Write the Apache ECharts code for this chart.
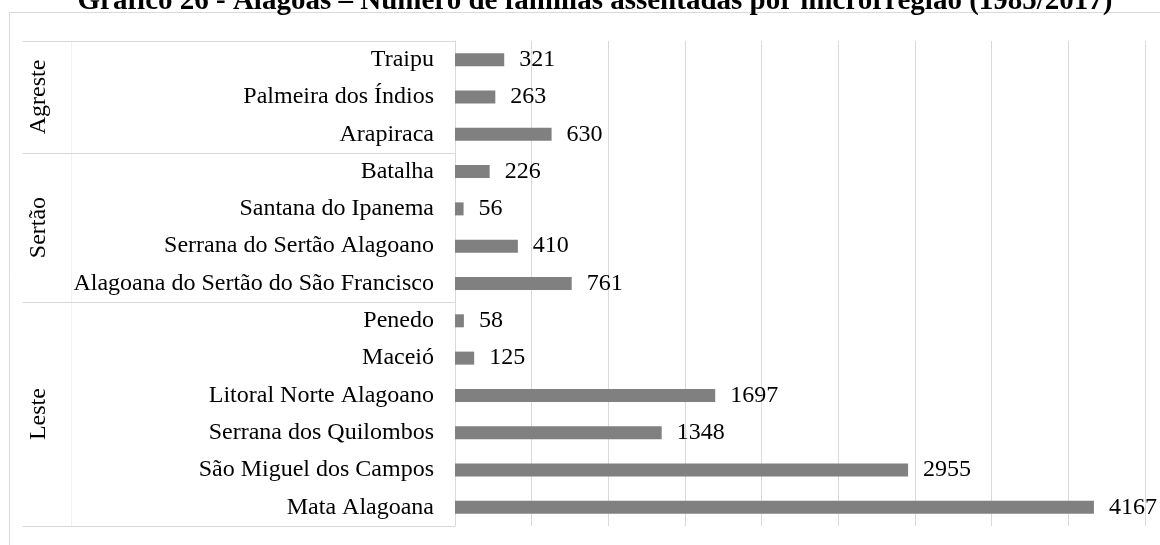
<!DOCTYPE html>
<html>
<head>
<meta charset="utf-8">
<style>
  html, body { margin: 0; padding: 0; background: #ffffff; }
  #chart { width: 1160px; height: 545px; }
</style>
<script src="https://cdn.jsdelivr.net/npm/echarts@6/dist/echarts.min.js"></script>
</head>
<body>
<div id="chart"></div>
<script>
// Número de famílias assentadas por microrregião, agrupadas por mesorregião
const titleText = 'Gráfico 26 - Alagoas – Número de famílias assentadas por microrregião (1985/2017)';
const groups = ['Agreste', 'Sertão', 'Leste'];
const groupSizes = [3, 4, 6];
const categories = [
  'Traipu', 'Palmeira dos Índios', 'Arapiraca',
  'Batalha', 'Santana do Ipanema', 'Serrana do Sertão Alagoano', 'Alagoana do Sertão do São Francisco',
  'Penedo', 'Maceió', 'Litoral Norte Alagoano', 'Serrana dos Quilombos', 'São Miguel dos Campos', 'Mata Alagoana'
];
const values = [321, 263, 630, 226, 56, 410, 761, 58, 125, 1697, 1348, 2955, 4167];
const axisMax = 4500;
const axisStep = 500;

const FONT = 'Liberation Serif, Times New Roman, serif';
const GRID_COLOR = '#d9d9d9';
const LABEL_SIZE = 24;

const chart = echarts.init(document.getElementById('chart'), null, { renderer: 'canvas' });

const option = {
  animation: false,
  backgroundColor: '#ffffff',
  grid: { left: 455, right: 15, top: 41, bottom: 19, containLabel: false },
  xAxis: {
    type: 'value',
    min: 0,
    max: axisMax,
    interval: axisStep,
    axisLabel: { show: false },
    axisTick: { show: false },
    axisLine: { show: false },
    splitLine: { show: true, lineStyle: { color: GRID_COLOR, width: 1 } }
  },
  yAxis: {
    type: 'category',
    inverse: true,
    data: categories,
    axisTick: { show: false },
    axisLine: { show: true, lineStyle: { color: GRID_COLOR, width: 1 } },
    axisLabel: { margin: 21, fontSize: LABEL_SIZE, fontFamily: FONT, color: '#000000' }
  },
  series: [{
    type: 'bar',
    data: values,
    barWidth: 13,
    itemStyle: { color: '#808080' },
    label: {
      show: true,
      position: 'right',
      distance: 15,
      fontSize: LABEL_SIZE,
      fontFamily: FONT,
      color: '#000000'
    }
  }]
};

chart.setOption(option);

// Group brackets and labels placed from the category axis scale
function drawGroups() {
  const cy = categories.map((c, i) => {
    const p = chart.convertToPixel({ yAxisIndex: 0 }, i);
    return Array.isArray(p) ? p[1] : p;
  });
  const band = cy[1] - cy[0];
  const edge = i => cy[0] - band / 2 + band * i;
  const axisX = chart.convertToPixel({ xAxisIndex: 0 }, 0);

  const elements = [];
  // outer frame
  elements.push({
    type: 'rect', z: 0, silent: true,
    shape: { x: 9.5, y: 12.5, width: 1200, height: 600 },
    style: { fill: 'none', stroke: GRID_COLOR, lineWidth: 1 }
  });
  // faint column divider between group names and category names
  elements.push({
    type: 'line', z: 1, silent: true,
    shape: { x1: 71.5, y1: edge(0), x2: 71.5, y2: edge(categories.length) },
    style: { stroke: '#f2f2f2', lineWidth: 1 }
  });

  let start = 0;
  const bounds = [0];
  groupSizes.forEach(n => { start += n; bounds.push(start); });
  bounds.forEach(b => {
    const y = Math.round(edge(b)) + 0.5;
    elements.push({
      type: 'line', z: 2, silent: true,
      shape: { x1: 22.5, y1: y, x2: axisX, y2: y },
      style: { stroke: GRID_COLOR, lineWidth: 1 }
    });
  });
  groups.forEach((g, i) => {
    const mid = (edge(bounds[i]) + edge(bounds[i + 1])) / 2;
    elements.push({
      type: 'text', z: 3, silent: true,
      x: 38.5, y: mid, rotation: Math.PI / 2,
      style: {
        text: g, fontSize: LABEL_SIZE, fontFamily: FONT, fill: '#000000',
        align: 'center', verticalAlign: 'middle'
      }
    });
  });
  // chart title
  elements.push({
    type: 'text', z: 3, silent: true,
    x: 595, y: 16,
    style: {
      text: titleText, fontSize: 29, fontWeight: 'bold', fontFamily: FONT,
      fill: '#000000', align: 'center', verticalAlign: 'bottom'
    }
  });

  chart.setOption({ graphic: { elements: elements } });
}

drawGroups();
</script>
</body>
</html>
